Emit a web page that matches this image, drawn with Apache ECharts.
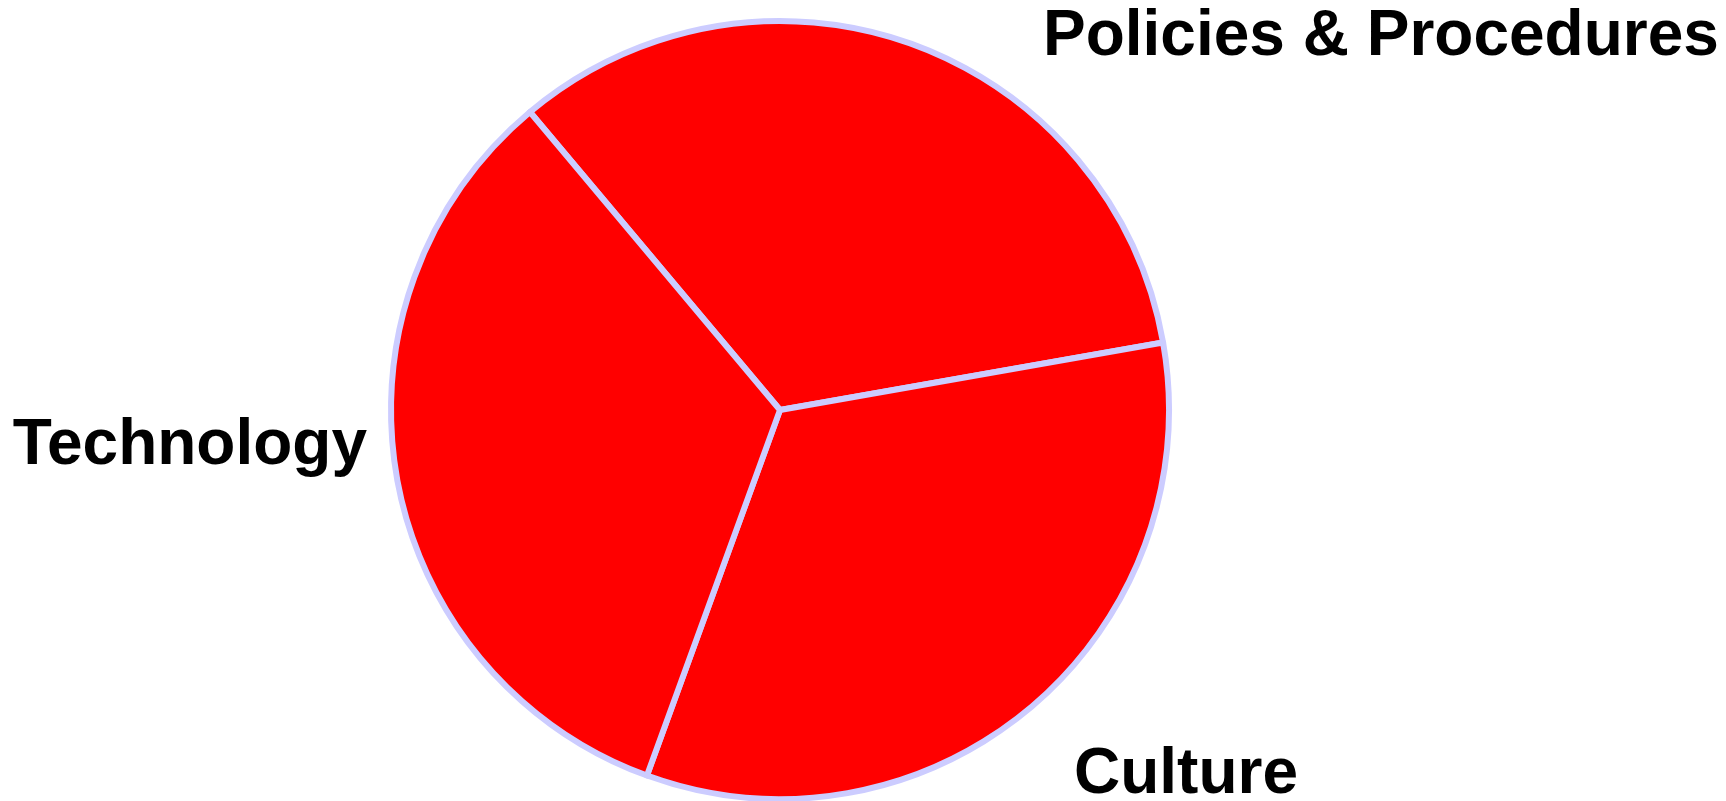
<!DOCTYPE html>
<html>
<head>
<meta charset="utf-8">
<title>Pie</title>
<script src="https://cdn.jsdelivr.net/npm/echarts@6/dist/echarts.min.js"></script>
<style>
  html, body { margin: 0; padding: 0; background: #fff; }
  #chart { width: 1726px; height: 801px; }
</style>
</head>
<body>
<div id="chart"></div>
<script>
'use strict';

// slices, clockwise from the top-left boundary
const categories = ['Policies & Procedures', 'Culture', 'Technology'];
const values = [1, 1, 1];

// label anchor offsets from the pie centre (px)
const labelSpots = [
    { dx: 263, dy: -373, align: 'left' },
    { dx: 294, dy: 365, align: 'left' },
    { dx: -413, dy: 36, align: 'right' }
];

const chartDom = document.getElementById('chart');
const myChart = echarts.init(chartDom);

const cx = 780, cy = 410;

const option = {
    animation: false,
    series: [{
        type: 'pie',
        center: [cx, cy],
        radius: 389,
        startAngle: 130,
        clockwise: true,
        silent: true,
        itemStyle: {
            color: '#ff0000',
            borderColor: '#ccccff',
            borderWidth: 6
        },
        label: {
            show: true,
            position: 'outside',
            color: '#000',
            fontFamily: '"Liberation Sans", Arial, sans-serif',
            fontWeight: 'bold',
            fontSize: 64,
            overflow: 'none'
        },
        labelLine: { show: false },
        labelLayout: function (params) {
            const s = labelSpots[params.dataIndex];
            return {
                x: cx + s.dx,
                y: cy + s.dy,
                align: s.align,
                verticalAlign: 'middle'
            };
        },
        data: categories.map((name, i) => ({ name: name, value: values[i] }))
    }]
};

myChart.setOption(option);
</script>
</body>
</html>
